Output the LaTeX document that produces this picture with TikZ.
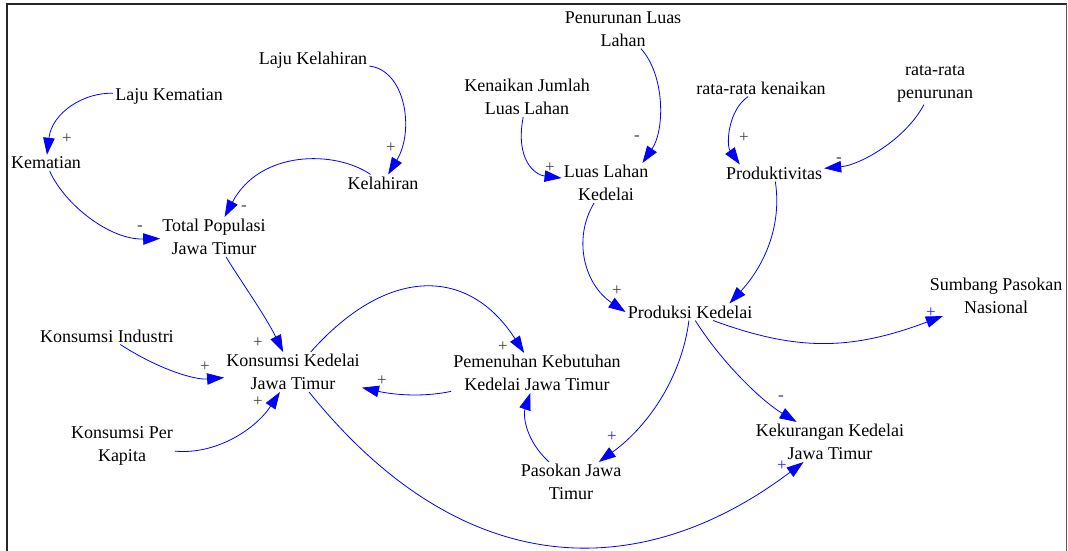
\documentclass[tikz,border=0pt]{standalone}
\usepackage{fontspec}
\setmainfont{Liberation Serif}
\usetikzlibrary{positioning, arrows.meta}

\begin{document}
\begin{tikzpicture}[
    x=1pt, y=-1pt,
    % Define specific styles to match the drawing
    var/.style={
        align=center,
        inner sep=2pt,
        text=black,
        font=\fontsize{18}{23}\selectfont
    },
    link/.style={
        draw=blue,
        line width=0.8pt,
        -{Triangle[length=17pt, width=11.5pt]}
    },
    sgn/.style={
        inner sep=0pt,
        text=black!75,
        font=\fontsize{17}{17}\selectfont
    },
    sgnblue/.style={
        sgn,
        text=blue!85
    }
]

    \useasboundingbox (0,0) rectangle (1068,551);

    % --- Frame ---
    \draw[black!85, line width=2pt] (7,552) -- (7,4) -- (1067,4);
    \draw[black!65, line width=1pt] (1066.5,4) -- (1066.5,552);

    % --- Variables ---
    % Population
    \node[var] (lajukel) at (313,60) {Laju Kelahiran};
    \node[var] (lajukem) at (169,96) {Laju Kematian};
    \node[var] (kem) at (46,163) {Kematian};
    \node[var] (kel) at (383,183) {Kelahiran};
    \node[var] (totpop) at (214,237) {Total Populasi\\Jawa Timur};

    % Land and productivity
    \node[var] (penurun) at (623,29) {Penurunan Luas\\Lahan};
    \node[var] (kenaikan) at (527,97) {Kenaikan Jumlah\\Luas Lahan};
    \node[var] (luas) at (606,183) {Luas Lahan\\Kedelai};
    \node[var] (ratakn) at (761,88) {rata-rata kenaikan};
    \node[var] (ratapn) at (935,84) {rata-rata\\penurunan};
    \node[var] (prod) at (774,173) {Produktivitas};
    \node[var] (prodk) at (690,312) {Produksi Kedelai};
    \node[var] (sumbang) at (996,296) {Sumbang Pasokan\\Nasional};

    % Consumption and supply
    \node[var] (konsind) at (107,336) {Konsumsi Industri};
    \node[var] (konsk) at (293,372) {Konsumsi Kedelai\\Jawa Timur};
    \node[var] (pemen) at (537,373) {Pemenuhan Kebutuhan\\Kedelai Jawa Timur};
    \node[var] (konspk) at (122,446) {Konsumsi Per\\Kapita};
    \node[var] (pasokan) at (571,482) {Pasokan Jawa\\Timur};
    \node[var] (kek) at (830,442) {Kekurangan Kedelai\\Jawa Timur};

    % --- Causal links ---
    \draw[link] (lajukem) .. controls (85,92) and (52,112) .. (kem);
    \draw[link] (kem) .. controls (65,205) and (110,240) .. (totpop);
    \draw[link] (kel) .. controls (335,150) and (260,150) .. (totpop);
    \draw[link] (lajukel) .. controls (405,70) and (415,130) .. (kel);

    \draw[link] (penurun) .. controls (665,75) and (665,130) .. ([xshift=-8pt]luas.north east);
    \draw[link] (kenaikan) .. controls (515,160) and (535,175) .. (luas);
    \draw[link] (ratakn) .. controls (728,110) and (726,145) .. ([xshift=16pt]prod.north west);
    \draw[link] (ratapn) .. controls (905,140) and (860,165) .. (prod);
    \draw[link] (luas) .. controls (572,240) and (585,285) .. (prodk.west);
    \draw[link] (prod) .. controls (782,225) and (765,265) .. ([xshift=-25pt]prodk.north east);

    \draw[link] (totpop) .. controls (240,280) and (265,315) .. (konsk);
    \draw[link] (konsind) .. controls (160,370) and (195,380) .. (konsk);
    \draw[link] (konspk) .. controls (215,455) and (255,430) .. (konsk);
    \draw[link] (konsk) .. controls (388,265) and (469,267) .. (pemen);
    \draw[link] (pemen) .. controls (420,398) and (390,394) .. (konsk);
    \draw[link] (pasokan) .. controls (525,440) and (523,415) .. (pemen);

    \draw[link] (prodk) .. controls (682,375) and (650,425) .. (pasokan);
    \draw[link] (prodk) .. controls (796,351) and (850,351) .. (sumbang);
    \draw[link] (prodk) .. controls (720,360) and (760,400) .. (kek);
    \draw[link] (konsk) .. controls (470,592) and (650,578) .. (kek);

    % --- Polarity signs ---
    \node[sgn] (sa) at (67,139) {+};
    \node[sgn] (sb) at (140,228) {-};
    \node[sgn] (sc) at (244,208) {-};
    \node[sgn] (sd) at (391,148) {+};
    \node[sgn] (se) at (637,138) {-};
    \node[sgn] (sf) at (550,168) {+};
    \node[sgn] (sg) at (744,138) {+};
    \node[sgn] (sh) at (839,160) {-};
    \node[sgn] (si) at (617,291) {+};
    \node[sgn] (sk) at (258,343) {+};
    \node[sgn] (sl) at (205,367) {+};
    \node[sgn] (sm) at (258,402) {+};
    \node[sgn] (sn) at (503,347) {+};
    \node[sgn] (so) at (382,381) {+};
    \node[sgnblue] (sq) at (612,437) {+};
    \node[sgnblue] (sr) at (931,313) {+};
    \node[sgnblue] (ss) at (781,398) {-};
    \node[sgnblue] (st) at (782,466) {+};

\end{tikzpicture}
\end{document}
